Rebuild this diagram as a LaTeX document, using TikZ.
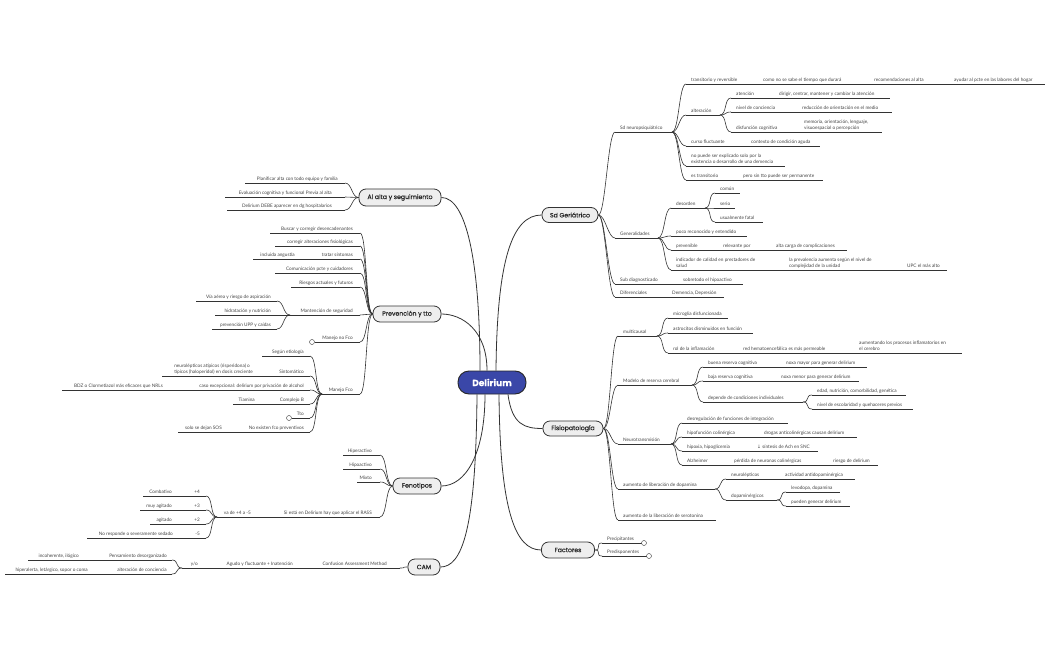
\documentclass[tikz,border=0pt]{standalone}
\usepackage{fontspec}
\setmainfont{Lato}
\newfontfamily\pop[FakeBold=0.5]{Poppins}
\newfontfamily\dejavu{DejaVu Sans}
\definecolor{tx}{HTML}{444444}
\definecolor{ln}{HTML}{333333}
\definecolor{tp}{HTML}{EEEEEE}
\definecolor{dblue}{HTML}{3A47A8}
\newcommand\RI[5]{%
  \coordinate (#1s) at (#2-5,#4);
  \coordinate (#1e) at (#3,#4);
  \draw[ul] (#1s) -- (#1e);
  \node[lbl,anchor=south west] (#1) at (#2,#4-0.7) {#5};}
\newcommand\RC[4]{\node[lbl,anchor=south west] (#1) at (#2,#3-0.7) {#4};}
\newcommand\LI[6]{%
  \coordinate (#1s) at (#3,#5);
  \coordinate (#1e) at (#4,#5);
  \draw[ul] (#1s) -- (#1e);
  \node[lbl,anchor=south east] (#1) at (#2,#5-0.7) {#6};}
\newcommand\LC[4]{\node[lbl,anchor=south east] (#1) at (#2,#3-0.7) {#4};}
\newcommand\cR[2]{\draw[cn] (#1) .. controls +(7,0) and +(-7,0) .. (#2);}
\newcommand\cL[2]{\draw[cn] (#1) .. controls +(-7,0) and +(7,0) .. (#2);}
\begin{document}
\begin{tikzpicture}[x=1pt,y=-1pt,
  lbl/.style={font=\fontsize{4.7}{5.6}\selectfont, text=tx, inner xsep=0pt, inner ysep=0.5pt, text depth=1.2pt, align=left},
  ul/.style={draw=ln, line width=0.55pt},
  cn/.style={draw=ln, line width=0.6pt},
  mainc/.style={draw=ln, line width=0.8pt},
  topic/.style={draw=ln, line width=0.8pt, fill=tp, rounded corners=7pt, font=\pop\fontsize{6.2}{7}\selectfont, text=black!85, inner sep=0pt, minimum height=16pt},
  hub/.style={draw=black!85, line width=0.9pt, fill=dblue, rounded corners=11pt, font=\pop\bfseries\fontsize{9}{10}\selectfont, text=white, inner sep=0pt, minimum width=68pt, minimum height=23pt},
  col/.style={circle, draw=ln, line width=0.4pt, fill=white, minimum size=5pt, inner sep=0pt}]
\fill[white] (0,0) rectangle (1050,650);
\useasboundingbox (0,0) rectangle (1050,650);

% ---------- topics
\node[hub] (del) at (492,382.5) {Delirium};
\node[topic,minimum width=56pt,minimum height=15pt] (sg) at (570,215) {Sd Geriátrico};
\node[topic,minimum width=60pt,minimum height=15pt] (fp) at (573,428.5) {Fisiopatología};
\node[topic,minimum width=53pt] (fa) at (568,550) {Factores};
\node[topic,minimum width=82pt,minimum height=17pt] (aa) at (400,197.5) {Al alta y seguimiento};
\node[topic,minimum width=68pt] (pt) at (407,314) {Prevención y tto};
\node[topic,minimum width=48pt] (fn) at (417,486) {Fenotipos};
\node[topic,minimum width=32pt] (cam) at (424,567) {CAM};

% ---------- main connectors
\draw[mainc] ([xshift=-12pt]del.north) .. controls (480,260) and (466,197.5) .. (aa.east);
\draw[mainc] ([xshift=-5pt]del.north) .. controls (487,330) and (462,314) .. (pt.east);
\draw[mainc] ([xshift=4pt]del.north) .. controls (497,260) and (512,215) .. (sg.west);
\draw[mainc] ([xshift=16pt]del.south) .. controls (512,425) and (525,428.5) .. (fp.west);
\draw[mainc] ([xshift=7pt]del.south) .. controls (500,510) and (515,550) .. (fa.west);
\draw[mainc] ([xshift=-7pt]del.south) .. controls (485,455) and (465,486) .. (fn.east);
\draw[mainc] ([xshift=-15pt]del.south) .. controls (476,530) and (462,567) .. (cam.east);

% ---------- Sd Geriátrico
\RI{sn}{620}{672}{132}{Sd neuropsiquiátrico}
\RI{tr}{691}{1045}{84}{transitorio y reversible}
\RC{tr2}{763}{84}{como no se sabe el tiempo que durará}
\RC{tr3}{874}{84}{recomendaciones al alta}
\RC{tr4}{954}{84}{ayudar al pcte en las labores del hogar}
\RI{al}{691}{720}{115}{alteración}
\RI{at}{736}{890}{98}{atención}
\RC{at2}{779}{98}{dirigir, centrar, mantener y cambiar la atención}
\RI{nc}{736}{892}{112}{nivel de conciencia}
\RC{nc2}{802}{112}{reducción de orientación en el medio}
\RI{dc}{736}{882}{132}{disfunción cognitiva}
\RC{dc2}{804}{132}{memoria, orientación, lenguaje,\\visuoespacial o percepción}
\RI{cf}{691}{820}{146}{curso fluctuante}
\RC{cf2}{751}{146}{contexto de condición aguda}
\RI{np}{691}{785}{166}{no puede ser explicado solo por la\\existencia o desarrollo de una demencia}
\RI{et}{691}{823}{180}{es transitorio}
\RC{et2}{743}{180}{pero sin tto puede ser permanente}
\RI{ge}{620}{658}{238}{Generalidades}
\RI{de}{676}{705}{208}{desorden}
\RI{co}{720}{740}{193}{común}
\RI{se}{720}{735}{208}{serio}
\RI{uf}{720}{763}{222}{usualmente fatal}
\RI{pr}{676}{747}{236}{poco reconocido y entendido}
\RI{pv}{676}{847}{250}{prevenible}
\RC{pv2}{723}{250}{relevante por}
\RC{pv3}{776}{250}{alta carga de complicaciones}
\RI{ic}{676}{947}{270}{indicador de calidad en prestadores de\\salud}
\RC{ic2}{789}{270}{la prevalencia aumenta según el nivel de\\complejidad de la unidad}
\RC{ic3}{907}{270}{UPC el más alto}
\RI{sd}{620}{743}{284}{Sub diagnosticado}
\RC{sd2}{683}{284}{sobretodo el hipoactivo}
\RI{df}{620}{724}{297}{Diferenciales}
\RC{df2}{672}{297}{Demencia, Depresión}
\cR{sg.east}{sns}\cR{sg.east}{ges}\cR{sg.east}{sds}\cR{sg.east}{dfs}
\cR{sne}{trs}\cR{sne}{als}\cR{sne}{cfs}\cR{sne}{nps}\cR{sne}{ets}
\cR{ale}{ats}\cR{ale}{ncs}\cR{ale}{dcs}
\cR{gee}{des}\cR{gee}{prs}\cR{gee}{pvs}\cR{gee}{ics}
\cR{dee}{cos}\cR{dee}{ses}\cR{dee}{ufs}

% ---------- Fisiopatología
\RI{mc}{623}{657}{336}{multicausal}
\RI{mg}{673}{728}{318}{microglia disfuncionada}
\RI{ast}{673}{753}{333}{astrocitos disminuidos en función}
\RI{ri}{673}{962}{353}{rol de la inflamación}
\RC{ri2}{743}{353}{red hematoencefálica es más permeable}
\RC{ri3}{859}{353}{aumentando los procesos inflamatorios en\\el cerebro}
\RI{mr}{623}{692}{385}{Modelo de reserva cerebral}
\RI{br}{708}{867}{367}{buena reserva cognitiva}
\RC{br2}{786}{367}{noxa mayor para generar delirium}
\RI{bj}{708}{859}{381}{baja reserva cognitiva}
\RC{bj2}{781}{381}{noxa menor para generar delirium}
\RI{dp}{708}{803}{402}{depende de condiciones individuales}
\RI{ed}{817}{906}{395}{edad, nutrición, comorbilidad, genética}
\RI{ne}{817}{913}{409}{nivel de escolaridad y quehaceres previos}
\RI{nt}{623}{671}{444}{Neurotransmisión}
\RI{dr}{687}{788}{423}{desregulación de funciones de integración}
\RI{hc}{687}{857}{437}{hipofunción colinérgica}
\RC{hc2}{764}{437}{drogas anticolinérgicas causan delirium}
\RI{hx}{687}{818}{451}{hipoxia, hipoglicemia}
\RC{hx2}{757}{451}{{\dejavu ↓} síntesis de Ach en SNC}
\RI{az}{687}{878}{465}{Alzheimer}
\RC{az2}{734}{465}{pérdida de neuronas colinérgicas}
\RC{az3}{833}{465}{riesgo de delirium}
\RI{ad}{623}{715}{489}{aumento de liberación de dopamina}
\RI{nl}{731}{855}{479}{neurolépticos}
\RC{nl2}{785}{479}{actividad antidopaminérgica}
\RI{dm}{731}{777}{500}{dopaminérgicos}
\RI{lv}{791}{840}{492}{levodopa, dopamina}
\RI{pg}{791}{850}{506}{pueden generar delirium}
\RI{ser}{623}{716}{520}{aumento de la liberación de serotonina}
\cR{fp.east}{mcs}\cR{fp.east}{mrs}\cR{fp.east}{nts}\cR{fp.east}{ads}\cR{fp.east}{sers}
\cR{mce}{mgs}\cR{mce}{asts}\cR{mce}{ris}
\cR{mre}{brs}\cR{mre}{bjs}\cR{mre}{dps}
\cR{dpe}{eds}\cR{dpe}{nes}
\cR{nte}{drs}\cR{nte}{hcs}\cR{nte}{hxs}\cR{nte}{azs}
\cR{ade}{nls}\cR{ade}{dms}
\cR{dme}{lvs}\cR{dme}{pgs}

% ---------- Factores
\RI{pc}{607}{641.5}{543}{Precipitantes}
\RI{pd}{607}{646.5}{556}{Predisponentes}
\node[col] (pcc) at (644,543) {};
\node[col] (pdc) at (649,556) {};
\cR{fa.east}{pcs}\cR{fa.east}{pds}

% ---------- Al alta y seguimiento
\LI{pl}{338}{345}{245}{183}{Planificar alta con todo equipo y familia}
\LI{ev}{332}{345}{225}{197}{Evaluación cognitiva y funcional Previa al alta}
\LI{dd}{332}{345}{227}{210}{Delirium DEBE aparecer en dg hospitalarios}
\cL{aa.west}{pls}\cL{aa.west}{evs}\cL{aa.west}{dds}

% ---------- Prevención y tto
\LI{bc}{353}{360}{270}{233}{Buscar y corregir desencadenantes}
\LI{ca}{353}{360}{275}{246}{corregir alteraciones fisiológicas}
\LI{ts}{353}{360}{253}{259}{tratar síntomas}
\LC{ts2}{295}{259}{incluida angustia}
\LI{cp}{353}{360}{275}{273}{Comunicación pcte y cuidadores}
\LI{rf}{353}{360}{291}{287}{Riesgos actuales y futuros}
\LI{ms}{353}{360}{290}{315}{Mantención de seguridad}
\LI{va}{271}{277}{196}{301}{Vía aérea y riesgo de aspiración}
\LI{hn}{271}{277}{215}{315}{hidratación y nutrición}
\LI{pu}{271}{277}{212}{329}{prevención UPP y caídas}
\LI{mn}{353}{360}{314.5}{342}{Manejo no Fco}
\node[col] (mnc) at (312,342) {};
\LI{mf}{353}{360}{322}{394}{Manejo Fco}
\LI{eti}{304}{310}{262}{356}{Según etiología}
\LI{si}{304}{310}{162}{376}{Sintomático}
\LC{si2}{253}{376}{neurolépticos atípicos (risperidona) o\\típicos (haloperidol) en dosis creciente}
\LI{ce}{304}{310}{62}{390}{caso excepcional: delirium por privación de alcohol}
\LC{ce2}{163}{390}{BDZ o Clormetiazol más eficaces que NRLs}
\LI{cb}{304}{310}{233}{404}{Complejo B}
\LC{cb2}{255}{404}{Tiamina}
\LI{tt}{304}{310}{291.5}{418}{Tto}
\node[col] (ttc) at (289,418) {};
\LI{nx}{304}{310}{178}{432}{No existen fco preventivos}
\LC{nx2}{222}{432}{solo se dejan SOS}
\cL{pt.west}{bcs}\cL{pt.west}{cas}\cL{pt.west}{tss}\cL{pt.west}{cps}
\cL{pt.west}{rfs}\cL{pt.west}{mss}\cL{pt.west}{mns}\cL{pt.west}{mfs}
\cL{mse}{vas}\cL{mse}{hns}\cL{mse}{pus}
\cL{mfe}{etis}\cL{mfe}{sis}\cL{mfe}{ces}\cL{mfe}{cbs}\cL{mfe}{tts}\cL{mfe}{nxs}

% ---------- Fenotipos
\LI{hi}{372}{380}{343}{455}{Hiperactivo}
\LI{ho}{372}{380}{343}{469}{Hipoactivo}
\LI{mx}{372}{380}{357}{482}{Mixto}
\LI{ra}{372}{380}{217}{517}{Si está en Delirium hay que aplicar el RASS}
\LC{ra2}{251}{517}{va de +4 a -5}
\LI{p4}{200}{206}{143}{496}{+4}
\LC{p42}{172}{496}{Combativo}
\LI{p3}{200}{206}{140}{510}{+3}
\LC{p32}{172}{510}{muy agitado}
\LI{p2}{200}{206}{150}{524}{+2}
\LC{p22}{172}{524}{agitado}
\LI{m5}{200}{206}{87}{538}{-5}
\LC{m52}{173}{538}{No responde o severamente sedado}
\cL{fn.west}{his}\cL{fn.west}{hos}\cL{fn.west}{mxs}\cL{fn.west}{ras}
\cL{rae}{p4s}\cL{rae}{p3s}\cL{rae}{p2s}\cL{rae}{m5s}

% ---------- CAM
\LI{cm}{387}{400}{182}{568}{Confusion Assessment Method}
\LC{cm2}{293}{568}{Agudo y fluctuante + Inatención}
\LC{cm3}{198}{568}{y/o}
\LI{pz}{167}{172}{28}{560}{Pensamiento desorganizado}
\LC{pz2}{79}{560}{incoherente, ilógico}
\LI{ac}{167}{172}{5}{574}{alteración de conciencia}
\LC{ac2}{88}{574}{hiperalerta, letárgico, sopor o coma}
\cL{cam.west}{cms}
\cL{cme}{pzs}\cL{cme}{acs}
\end{tikzpicture}
\end{document}
